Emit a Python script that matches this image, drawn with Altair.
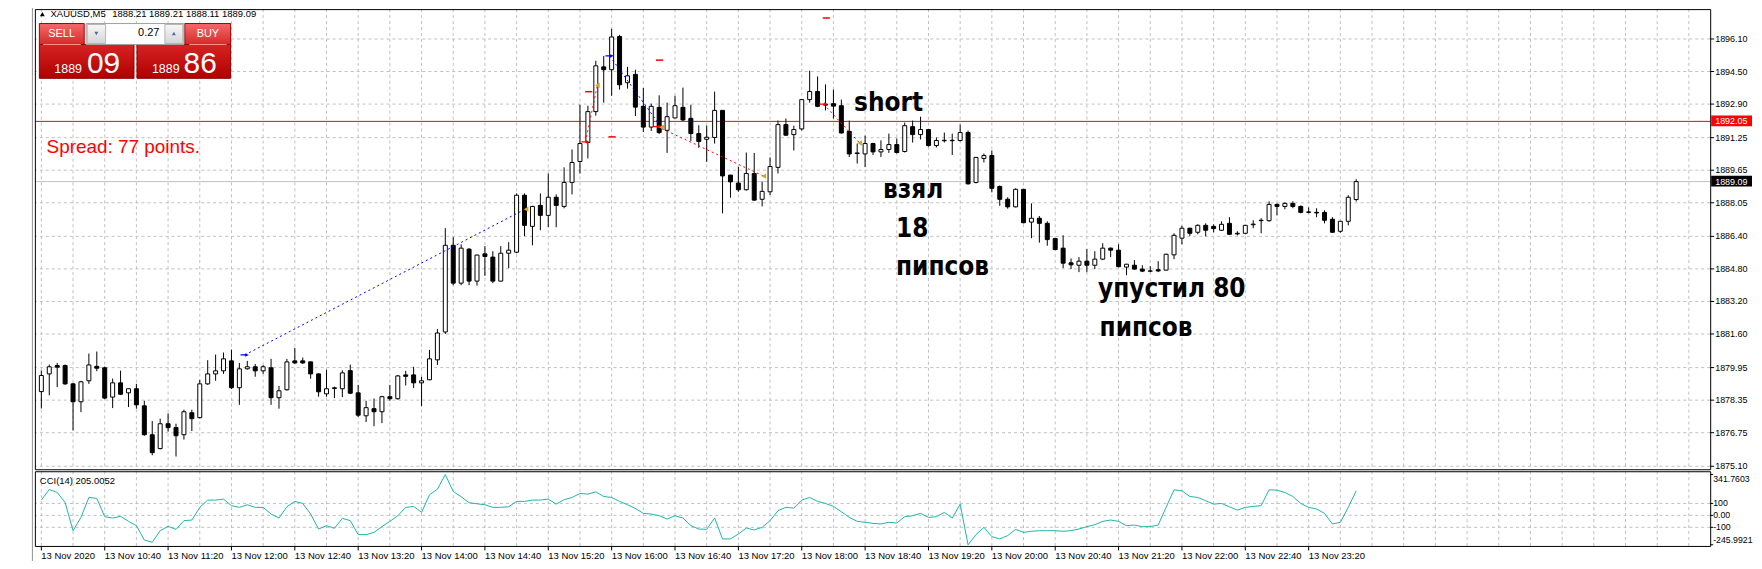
import altair as alt
import pandas as pd

# ---------------- data ----------------
OPEN = [1878.77, 1879.64, 1880.05, 1880.05, 1879.15, 1878.27, 1879.30, 1880.01, 1879.94, 1878.50,
        1879.20, 1878.71, 1878.91, 1878.07, 1876.65, 1875.97, 1877.19, 1877.00, 1876.65, 1877.73,
        1877.49, 1879.15, 1879.64, 1879.79, 1880.28, 1878.96, 1879.89, 1879.99, 1879.79, 1879.94,
        1878.47, 1878.86, 1880.28, 1880.28, 1880.23, 1879.64, 1878.66, 1878.92, 1878.91, 1879.80,
        1878.71, 1877.58, 1877.93, 1877.78, 1878.52, 1878.42, 1879.59, 1879.59, 1879.20, 1879.35,
        1880.33, 1881.70, 1885.96, 1884.10, 1885.77, 1884.20, 1885.54, 1885.38, 1884.20, 1885.57,
        1885.62, 1888.42, 1886.89, 1887.92, 1887.43, 1888.32, 1887.87, 1889.05, 1890.08, 1891.01,
        1892.53, 1894.73, 1894.59, 1896.22, 1893.95, 1894.36, 1892.79, 1891.77, 1892.74, 1891.61,
        1892.22, 1892.74, 1892.20, 1891.45, 1891.17, 1891.26, 1892.59, 1889.41, 1889.02, 1888.69,
        1889.49, 1888.22, 1888.59, 1889.79, 1891.89, 1891.40, 1891.68, 1893.12, 1893.52, 1892.89,
        1892.92, 1892.82, 1891.56, 1890.47, 1890.45, 1890.96, 1890.55, 1890.67, 1890.91, 1890.57,
        1891.79, 1891.40, 1891.65, 1890.86, 1891.10, 1891.12, 1891.11, 1891.50, 1889.05, 1890.23,
        1890.37, 1888.85, 1888.22, 1887.85, 1888.71, 1887.10, 1887.29, 1887.04, 1886.29, 1885.82,
        1885.10, 1884.98, 1885.18, 1884.98, 1885.28, 1885.82, 1885.72, 1884.89, 1884.98, 1884.79,
        1884.70, 1884.76, 1884.74, 1885.49, 1886.31, 1886.80, 1886.60, 1886.94, 1886.89, 1886.70,
        1887.04, 1886.52, 1886.55, 1886.97, 1887.17, 1887.17, 1887.97, 1887.87, 1888.02, 1887.87,
        1887.60, 1887.58, 1887.58, 1887.24, 1886.65, 1887.14, 1888.21]

HIGH = [1879.80, 1880.10, 1880.18, 1880.10, 1879.20, 1879.30, 1880.64, 1880.74, 1880.00, 1879.41,
        1879.80, 1878.91, 1879.15, 1878.32, 1877.32, 1877.44, 1877.70, 1877.19, 1877.88, 1877.88,
        1879.35, 1880.31, 1880.59, 1880.69, 1880.83, 1880.18, 1880.28, 1880.13, 1880.08, 1880.38,
        1879.05, 1880.38, 1880.92, 1880.44, 1880.25, 1879.66, 1879.84, 1879.01, 1879.82, 1880.10,
        1879.10, 1878.32, 1878.43, 1878.56, 1879.10, 1879.59, 1879.79, 1879.99, 1879.50, 1880.82,
        1881.85, 1886.80, 1886.36, 1886.01, 1885.82, 1885.50, 1885.92, 1885.67, 1885.92, 1886.11,
        1888.51, 1888.51, 1887.90, 1888.51, 1889.49, 1888.46, 1889.79, 1890.67, 1892.87, 1892.82,
        1895.03, 1895.27, 1896.60, 1896.30, 1894.73, 1894.59, 1893.69, 1892.92, 1893.33, 1892.97,
        1893.31, 1893.71, 1892.87, 1891.86, 1891.84, 1893.51, 1892.60, 1889.42, 1889.81, 1890.52,
        1890.50, 1889.08, 1890.28, 1892.09, 1892.19, 1891.84, 1893.15, 1894.54, 1894.26, 1893.87,
        1893.61, 1893.12, 1892.09, 1890.96, 1891.35, 1891.00, 1891.12, 1891.45, 1891.21, 1891.99,
        1892.09, 1892.28, 1891.68, 1891.26, 1891.50, 1891.45, 1891.89, 1891.60, 1890.30, 1890.47,
        1890.62, 1888.90, 1888.32, 1888.76, 1888.73, 1888.02, 1887.40, 1887.14, 1886.32, 1886.45,
        1885.31, 1885.38, 1885.77, 1885.67, 1886.06, 1885.85, 1886.01, 1885.05, 1885.23, 1884.98,
        1884.93, 1885.18, 1885.55, 1886.55, 1886.92, 1886.82, 1886.99, 1887.04, 1886.99, 1887.14,
        1887.34, 1886.65, 1886.96, 1887.19, 1887.29, 1888.12, 1888.02, 1888.07, 1888.12, 1887.92,
        1887.82, 1887.78, 1887.68, 1887.34, 1887.16, 1888.42, 1889.21]

LOW = [1877.94, 1878.59, 1878.99, 1879.10, 1876.86, 1877.76, 1879.15, 1879.77, 1878.40, 1877.96,
       1878.60, 1878.01, 1877.93, 1876.60, 1875.64, 1875.93, 1876.80, 1875.58, 1876.41, 1876.83,
       1877.45, 1879.10, 1879.30, 1879.64, 1878.90, 1878.12, 1879.85, 1879.50, 1879.64, 1878.12,
       1877.93, 1878.82, 1880.13, 1880.13, 1879.40, 1878.52, 1878.52, 1878.45, 1878.50, 1878.65,
       1877.52, 1877.27, 1877.07, 1877.22, 1878.32, 1878.37, 1879.07, 1878.94, 1878.05, 1879.33,
       1880.08, 1881.60, 1884.00, 1884.00, 1884.00, 1883.98, 1884.46, 1884.10, 1884.18, 1884.84,
       1885.57, 1886.41, 1885.96, 1886.70, 1886.85, 1886.85, 1887.78, 1888.46, 1889.49, 1890.23,
       1892.33, 1892.97, 1893.31, 1893.61, 1893.66, 1892.31, 1891.53, 1891.58, 1891.43, 1890.50,
       1892.20, 1892.07, 1891.09, 1890.75, 1890.06, 1890.96, 1887.53, 1888.30, 1888.59, 1888.65,
       1888.15, 1887.87, 1888.43, 1889.49, 1891.35, 1890.62, 1891.60, 1892.97, 1892.75, 1892.59,
       1892.19, 1891.45, 1890.30, 1889.98, 1889.81, 1890.40, 1890.30, 1890.50, 1890.47, 1890.52,
       1891.01, 1891.16, 1890.81, 1890.77, 1891.01, 1890.40, 1891.06, 1888.95, 1889.00, 1890.03,
       1888.56, 1887.90, 1887.76, 1887.82, 1887.04, 1886.31, 1886.09, 1885.94, 1885.72, 1884.84,
       1884.79, 1884.64, 1884.64, 1884.79, 1885.23, 1885.38, 1884.88, 1884.49, 1884.77, 1884.64,
       1884.64, 1884.64, 1884.72, 1885.28, 1886.01, 1886.42, 1886.50, 1886.40, 1886.60, 1886.68,
       1886.48, 1886.45, 1886.50, 1886.80, 1886.55, 1887.12, 1887.43, 1887.73, 1887.78, 1887.53,
       1887.53, 1887.34, 1887.04, 1886.58, 1886.58, 1886.94, 1888.11]

CLOSE = [1879.56, 1879.99, 1879.97, 1879.15, 1878.27, 1879.25, 1880.08, 1879.92, 1878.45, 1879.20,
         1878.64, 1878.91, 1878.12, 1876.65, 1875.77, 1877.19, 1877.00, 1876.60, 1877.78, 1877.44,
         1879.15, 1879.64, 1879.79, 1880.38, 1878.96, 1879.89, 1879.99, 1879.79, 1879.99, 1878.47,
         1878.81, 1880.23, 1880.18, 1880.18, 1879.64, 1878.76, 1878.91, 1878.96, 1879.69, 1878.69,
         1877.61, 1877.98, 1877.78, 1878.52, 1878.42, 1879.54, 1879.52, 1879.20, 1879.30, 1880.38,
         1881.65, 1885.96, 1884.10, 1885.82, 1884.20, 1885.48, 1885.41, 1884.20, 1885.57, 1885.72,
         1888.42, 1886.94, 1887.87, 1887.43, 1888.32, 1887.92, 1889.05, 1890.03, 1890.96, 1892.53,
         1894.78, 1894.59, 1896.20, 1893.85, 1894.29, 1892.75, 1891.77, 1892.79, 1891.50, 1892.28,
         1892.82, 1892.12, 1891.45, 1891.06, 1891.27, 1892.59, 1889.37, 1889.08, 1888.69, 1889.49,
         1888.18, 1888.61, 1889.83, 1891.89, 1891.37, 1891.65, 1893.12, 1893.52, 1892.79, 1892.85,
         1892.80, 1891.48, 1890.45, 1890.50, 1890.96, 1890.55, 1890.67, 1890.91, 1890.52, 1891.84,
         1891.40, 1891.65, 1890.86, 1891.11, 1891.12, 1891.10, 1891.50, 1888.98, 1890.28, 1890.37,
         1888.76, 1888.22, 1887.85, 1888.71, 1887.07, 1887.29, 1887.04, 1886.24, 1885.75, 1885.08,
         1885.00, 1885.18, 1884.98, 1885.28, 1885.82, 1885.72, 1884.91, 1885.03, 1884.79, 1884.69,
         1884.69, 1884.70, 1885.52, 1886.45, 1886.80, 1886.55, 1886.94, 1886.70, 1886.78, 1886.99,
         1886.50, 1886.55, 1886.94, 1887.00, 1887.19, 1887.97, 1887.87, 1888.02, 1887.87, 1887.58,
         1887.58, 1887.55, 1887.19, 1886.60, 1887.14, 1888.32, 1889.09]

CCI = [128, 217, 192, 108, -128, -17, 150, 142, -11, -22,
       -8, -50, -86, -206, -225, -128, -92, -117, -44, -39,
       67, 128, 128, 136, 81, 67, 89, 67, 67, 11,
       -22, 72, 117, 100, 11, -114, -86, -108, -25, -44,
       -161, -161, -142, -94, -50, -3, 67, 75, 25, 172,
       219, 341.76, 200, 156, 106, 97, 89, 67, 67, 72,
       117, 117, 128, 128, 136, 94, 131, 150, 183, 178,
       197, 158, 150, 117, 89, 58, 17, 11, -3, -31,
       -3, -22, -86, -114, -117, -22, -197, -197, -156, -106,
       -122, -100, -44, 39, 67, 61, 128, 150, 117, 100,
       75, 31, -17, -50, -58, -67, -72, -58, -64, -11,
       -3, 17, -17, -11, 25, -22, 94, -245.99, -161, -100,
       -178, -197, -169, -117, -142, -133, -128, -128, -128, -133,
       -128, -114, -94, -78, -50, -39, -50, -86, -81, -94,
       -94, -81, 67, 214, 206, 158, 150, 122, 94, 100,
       72, 44, 67, 75, 81, 214, 211, 192, 158, 100,
       67, 53, 17, -72, -58, 67, 205.0052]

TIME_LABELS = ["13 Nov 2020", "13 Nov 10:40", "13 Nov 11:20", "13 Nov 12:00", "13 Nov 12:40",
               "13 Nov 13:20", "13 Nov 14:00", "13 Nov 14:40", "13 Nov 15:20", "13 Nov 16:00",
               "13 Nov 16:40", "13 Nov 17:20", "13 Nov 18:00", "13 Nov 18:40", "13 Nov 19:20",
               "13 Nov 20:00", "13 Nov 20:40", "13 Nov 21:20", "13 Nov 22:00", "13 Nov 22:40",
               "13 Nov 23:20"]
TIME_TICKS = [0, 8, 16, 24, 32, 40, 48, 56, 64, 72, 80, 88, 96, 104, 112, 120, 128, 136,
              144, 152, 160]
GRID_BARS = [4 * k for k in range(53)]

PRICE_TICKS = [1896.10, 1894.50, 1892.90, 1891.25, 1889.65, 1888.05, 1886.40, 1884.80,
               1883.20, 1881.60, 1879.95, 1878.35, 1876.75, 1875.10]
CCI_TICKS = [341.7603, 100, 0, -100, -245.9921]
CCI_TICK_LABELS = ["341.7603", "100", "0.00", "-100", "-245.9921"]
CCI_LEVELS = [100, 0, -100]

ASK_PRICE = 1892.05
BID_PRICE = 1889.09

BLUE_SEG = [1, 1, 2, 2]
BLUE_I = [25.67, 60.9, 71.75, 78.1]
BLUE_P = [1880.57, 1887.70, 1895.27, 1891.85]
RED_SEG = [1, 1, 2, 2, 3, 3]
RED_I = [68.7, 70.2, 77.8, 91.2, 98.75, 103.3]
RED_P = [1891.04, 1893.83, 1891.79, 1889.36, 1892.90, 1890.99]
BUY_ARROW_I = [25.67, 71.75]
BUY_ARROW_P = [1880.57, 1895.27]
SELL_ARROW_I = [68.7, 77.8, 98.75]
SELL_ARROW_P = [1891.04, 1891.79, 1892.90]
EXIT_I = [61.2, 70.2, 78.3, 91.2, 103.3]
EXIT_P = [1887.73, 1893.83, 1891.76, 1889.36, 1890.99]
LEVEL_I = [69.1, 72.05, 78.05, 99.1]
LEVEL_P = [1893.51, 1891.29, 1895.06, 1897.13]

NOTE_TEXT = ["short", "взял", "18", "пипсов", "упустил 80", "пипсов"]
NOTE_I = [102.6, 106.25, 107.9, 107.9, 133.4, 133.6]
NOTE_P = [1892.58, 1888.27, 1886.36, 1884.50, 1883.42, 1881.51]

# ---------------- layout ----------------
W, H = 1682, 539
MAIN_H = 462
SUB_TOP = 464
FONT = "Liberation Sans"
NOTE_FONT = "DejaVu Sans Condensed, DejaVu Sans"

XS = alt.Scale(domain=[-0.1875, 210.0625], nice=False, zero=False)
PS = alt.Scale(domain=[1871.184, 1897.568], nice=False, zero=False)
CS = alt.Scale(domain=[-255.8, 4235.8], nice=False, zero=False)
ONE = pd.DataFrame({"k": [0]})


def xq(f="i"):
    return alt.X(f"{f}:Q", scale=XS, axis=None)


def yp(f="p"):
    return alt.Y(f"{f}:Q", scale=PS, axis=None)


def yc(f="v"):
    return alt.Y(f"{f}:Q", scale=CS, axis=None)


def grad(c1, c2):
    return alt.LinearGradient(gradient="linear",
                              stops=[alt.GradientStop(color=c1, offset=0),
                                     alt.GradientStop(color=c2, offset=1)],
                              x1=0, x2=0, y1=0, y2=1)


def px_rect(x1, y1, x2, y2, **kw):
    return alt.Chart(ONE).mark_rect(**kw).encode(
        x=alt.value(x1), x2=alt.value(x2), y=alt.value(y1), y2=alt.value(y2))


def px_text(s, x, y, **kw):
    return alt.Chart(ONE).mark_text(text=s, **kw).encode(x=alt.value(x), y=alt.value(y))


candles = pd.DataFrame({"i": list(range(len(OPEN))), "open": OPEN, "high": HIGH,
                        "low": LOW, "close": CLOSE})
cci_df = pd.DataFrame({"i": list(range(len(CCI))), "v": CCI})
grid_df = pd.DataFrame({"i": GRID_BARS})
time_df = pd.DataFrame({"i": TIME_TICKS, "lab": TIME_LABELS})
pt_df = pd.DataFrame({"p": PRICE_TICKS, "lab": [f"{v:.2f}" for v in PRICE_TICKS]})
ct_df = pd.DataFrame({"v": CCI_TICKS, "lab": CCI_TICK_LABELS})
cl_df = pd.DataFrame({"v": CCI_LEVELS})
blue_df = pd.DataFrame({"seg": BLUE_SEG, "i": BLUE_I, "p": BLUE_P})
red_df = pd.DataFrame({"seg": RED_SEG, "i": RED_I, "p": RED_P})
buy_df = pd.DataFrame({"i": BUY_ARROW_I, "p": BUY_ARROW_P})
sell_df = pd.DataFrame({"i": SELL_ARROW_I, "p": SELL_ARROW_P})
exit_df = pd.DataFrame({"i": EXIT_I, "p": EXIT_P})
level_df = pd.DataFrame({"i": LEVEL_I, "p": LEVEL_P})
note_df = pd.DataFrame({"i": NOTE_I, "p": NOTE_P, "t": NOTE_TEXT})

GRID = dict(color="#c0c0c0", strokeDash=[3, 3], strokeWidth=1)

layers = []
# grids
layers.append(alt.Chart(grid_df).mark_rule(**GRID).encode(
    x=xq(), y=alt.value(0), y2=alt.value(MAIN_H)))
layers.append(alt.Chart(pt_df).mark_rule(**GRID).encode(y=yp()))
layers.append(alt.Chart(grid_df).mark_rule(**GRID).encode(
    x=xq(), y=alt.value(SUB_TOP), y2=alt.value(H)))
layers.append(alt.Chart(cl_df).mark_rule(**GRID).encode(y=yc()))
# bid / ask lines
layers.append(alt.Chart(pd.DataFrame({"p": [BID_PRICE]})).mark_rule(
    color="#c0c0c0", strokeWidth=1).encode(y=yp()))
layers.append(alt.Chart(pd.DataFrame({"p": [ASK_PRICE]})).mark_rule(
    color="#ff0000", strokeWidth=1).encode(y=yp()))
# candles
layers.append(alt.Chart(candles).mark_rule(color="black", strokeWidth=1).encode(
    x=xq(), y=yp("low"), y2="high:Q"))
layers.append(alt.Chart(candles).mark_bar(size=4, stroke="black", strokeWidth=1).encode(
    x=xq(), y=yp("open"), y2="close:Q",
    fill=alt.condition("datum.close >= datum.open", alt.value("white"), alt.value("black"))))
# trades
layers.append(alt.Chart(blue_df).mark_line(color="#0000ff", strokeWidth=1,
                                           strokeDash=[2, 3]).encode(
    x=xq(), y=yp(), detail="seg:N"))
layers.append(alt.Chart(red_df).mark_line(color="#ff0000", strokeWidth=1,
                                          strokeDash=[2, 3]).encode(
    x=xq(), y=yp(), detail="seg:N"))
layers.append(alt.Chart(level_df).transform_calculate(
    a="datum.i - 0.45", b="datum.i + 0.45").mark_rule(
    color="#ff0000", strokeWidth=1.5).encode(x=xq("a"), x2="b:Q", y=yp()))
layers.append(alt.Chart(buy_df).mark_point(shape="arrow", angle=90, filled=True, size=70,
                                           color="#0000ff", opacity=1).encode(x=xq(), y=yp()))
layers.append(alt.Chart(sell_df).mark_point(shape="arrow", angle=90, filled=True, size=70,
                                            color="#ff0000", opacity=1).encode(x=xq(), y=yp()))
layers.append(alt.Chart(exit_df).mark_point(shape="triangle-left", filled=True, size=30,
                                            color="#daa520", opacity=1).encode(x=xq(), y=yp()))
# notes
layers.append(alt.Chart(note_df).mark_text(align="left", baseline="alphabetic",
                                           font=NOTE_FONT, fontWeight="bold", fontSize=26,
                                           color="black").encode(x=xq(), y=yp(), text="t:N"))
# CCI line
layers.append(alt.Chart(cci_df).mark_line(color="#20b2aa", strokeWidth=1).encode(
    x=xq(), y=yc()))
# panel borders
layers.append(px_rect(0.5, 0.5, W + 0.5, MAIN_H + 0.5, fill="transparent",
                      stroke="black", strokeWidth=1))
layers.append(px_rect(0.5, SUB_TOP + 0.5, W + 0.5, H + 0.5, fill="transparent",
                      stroke="black", strokeWidth=1))
# time scale (bottom)
layers.append(alt.Chart(time_df).mark_rule(color="black", strokeWidth=1).encode(
    x=xq(), y=alt.value(H + 0.5), y2=alt.value(H + 4.5)))
layers.append(alt.Chart(time_df).mark_text(align="left", baseline="alphabetic", font=FONT,
                                           fontSize=9.5, color="black").encode(
    x=xq(), y=alt.value(H + 13), text="lab:N"))
# price scale (right)
layers.append(alt.Chart(pt_df).mark_rule(color="black", strokeWidth=1).encode(
    x=alt.value(W), x2=alt.value(W + 4), y=yp()))
layers.append(alt.Chart(pt_df).mark_text(align="left", baseline="middle", font=FONT,
                                         fontSize=9, color="black").encode(
    x=alt.value(W + 5), y=yp(), text="lab:N"))
for price, col in [(ASK_PRICE, "#ff0000"), (BID_PRICE, "#000000")]:
    pdf = pd.DataFrame({"p": [price], "lab": [f"{price:.2f}"]})
    layers.append(alt.Chart(pdf).mark_rect(color=col, yOffset=-6, y2Offset=5).encode(
        x=alt.value(W + 1), x2=alt.value(W + 42), y=yp(), y2="p:Q"))
    layers.append(alt.Chart(pdf).mark_text(align="left", baseline="middle", font=FONT,
                                           fontSize=9, color="white").encode(
        x=alt.value(W + 5), y=yp(), text="lab:N"))
# CCI scale (right)
layers.append(alt.Chart(ct_df).mark_rule(color="black", strokeWidth=1).encode(
    x=alt.value(W), x2=alt.value(W + 3), y=yc()))
for rows, dy in [([0], 4), ([1, 2, 3], 0), ([4], -5)]:
    layers.append(alt.Chart(ct_df.iloc[rows]).mark_text(
        align="left", baseline="middle", font=FONT, fontSize=8.8, color="black", dy=dy).encode(
        x=alt.value(W + 3), y=yc(), text="lab:N"))

# ---------------- terminal overlays ----------------
layers.append(alt.Chart(ONE).mark_rule(color="#909090", strokeWidth=1).encode(
    x=alt.value(-2.5), y=alt.value(-2), y2=alt.value(560)))
layers.append(alt.Chart(ONE).mark_point(shape="triangle-up", filled=True, size=24,
                                        color="black", opacity=1).encode(
    x=alt.value(7.5), y=alt.value(5)))
layers.append(px_text("XAUUSD,M5", 15.7, 5, align="left", baseline="middle", font=FONT,
                      fontSize=9.5, color="black"))
layers.append(px_text("1888.21 1889.21 1888.11 1889.09", 77.7, 5, align="left",
                      baseline="middle", font=FONT, fontSize=9.5, color="black"))
# one-click trading panel
layers.append(px_rect(4.5, 35.5, 99.5, 69.5, fill=grad("#d62222", "#b00000"),
                      stroke="#8b0000", strokeWidth=1))
layers.append(px_rect(102.5, 35.5, 196.5, 69.5, fill=grad("#d62222", "#b00000"),
                      stroke="#8b0000", strokeWidth=1))
layers.append(px_rect(4.5, 14.5, 49.5, 35.5, fill=grad("#f46a6a", "#d42a2a"),
                      stroke="#a00000", strokeWidth=1))
layers.append(px_rect(150.5, 14.5, 196.5, 35.5, fill=grad("#f46a6a", "#d42a2a"),
                      stroke="#a00000", strokeWidth=1))
layers.append(px_rect(51.5, 14.5, 149.5, 35.5, fill="white", stroke="#a0a0a0",
                      strokeWidth=1))
layers.append(px_rect(52.5, 15.5, 71, 34.5, fill=grad("#f8f8f8", "#d4d4d4"),
                      stroke="#b4b4b4", strokeWidth=1))
layers.append(px_rect(130.5, 15.5, 148.5, 34.5, fill=grad("#f8f8f8", "#d4d4d4"),
                      stroke="#b4b4b4", strokeWidth=1))
layers.append(alt.Chart(ONE).mark_point(shape="triangle-down", filled=True, size=16,
                                        color="#5068b0", opacity=1).encode(
    x=alt.value(61.7), y=alt.value(24.5)))
layers.append(alt.Chart(ONE).mark_point(shape="triangle-up", filled=True, size=16,
                                        color="#5068b0", opacity=1).encode(
    x=alt.value(139.5), y=alt.value(24.5)))
for xa, xb in [(8.3, 46), (155, 192.5)]:
    layers.append(alt.Chart(ONE).mark_rule(color="#ff9a9a", strokeWidth=1).encode(
        x=alt.value(xa), x2=alt.value(xb), y=alt.value(35.5)))
layers.append(px_text("SELL", 26.8, 25, align="center", baseline="middle", font=FONT,
                      fontSize=11, color="white"))
layers.append(px_text("BUY", 173.7, 25, align="center", baseline="middle", font=FONT,
                      fontSize=11, color="white"))
layers.append(px_text("0.27", 125, 24.5, align="right", baseline="middle", font=FONT,
                      fontSize=11, color="black"))
layers.append(px_text("1889", 47.3, 63.7, align="right", baseline="alphabetic", font=FONT,
                      fontSize=12.5, color="white"))
layers.append(px_text("09", 52.3, 63.7, align="left", baseline="alphabetic", font=FONT,
                      fontSize=30, color="white"))
layers.append(px_text("1889", 145.3, 63.7, align="right", baseline="alphabetic", font=FONT,
                      fontSize=12.5, color="white"))
layers.append(px_text("86", 149.3, 63.7, align="left", baseline="alphabetic", font=FONT,
                      fontSize=30, color="white"))
layers.append(px_text("Spread: 77 points.", 11.7, 144.7, align="left", baseline="alphabetic",
                      font=FONT, fontSize=19, color="#ff0000"))
layers.append(px_text("CCI(14) 205.0052", 5, SUB_TOP + 9.7, align="left", baseline="middle",
                      font=FONT, fontSize=9.5, color="black"))

chart = alt.layer(*layers).resolve_scale(y="independent").properties(
    width=W, height=H,
    autosize=alt.AutoSizeParams(type="none"),
    padding={"left": 27, "top": 0, "right": 44, "bottom": 14},
).configure_view(strokeWidth=0)

chart.save("out.html", embed_options={"renderer": "svg", "actions": False})
